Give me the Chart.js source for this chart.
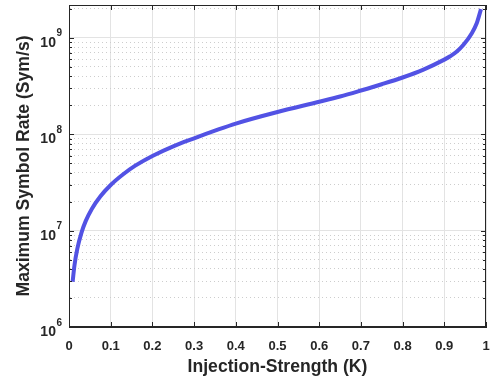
<!DOCTYPE html>
<html>
<head>
<meta charset="utf-8">
<script src="https://cdn.jsdelivr.net/npm/chart.js@4/dist/chart.umd.min.js"></script>
<style>
  html, body { margin: 0; padding: 0; background: #fff; }
  #wrap { width: 490px; height: 382px; }
</style>
</head>
<body>
<div id="wrap"><canvas id="rate-chart"></canvas></div>
<script>
// injection strength K and max symbol rate (Sym/s)
const strength = [0.0087, 0.013, 0.02, 0.03, 0.04, 0.055, 0.075, 0.1, 0.13, 0.158, 0.2, 0.25, 0.3, 0.35, 0.4, 0.5, 0.6, 0.65, 0.7, 0.75, 0.8, 0.85, 0.9, 0.914, 0.93, 0.946, 0.966, 0.978, 0.988];
const symbolRate = [2.95e6, 4.33e6, 6.5e6, 9.55e6, 1.256e7, 1.69e7, 2.265e7, 2.98e7, 3.85e7, 4.7e7, 5.96e7, 7.5e7, 9.08e7, 1.09e8, 1.294e8, 1.706e8, 2.178e8, 2.47e8, 2.85e8, 3.31e8, 3.89e8, 4.7e8, 5.96e8, 6.46e8, 7.24e8, 8.51e8, 1.122e9, 1.432e9, 1.995e9];
const decades = [6, 7, 8, 9];

const textColor = '#262626';
const isDecade = v => Math.abs(Math.log10(v) - Math.round(Math.log10(v))) < 1e-9;

// MATLAB-ish box with inward tick marks, and 10^n labels with a real superscript
const frame = {
    id: 'frame',
    afterDraw(chart) {
        const { ctx, chartArea: a, scales: { x, y } } = chart;
        ctx.save();
        ctx.strokeStyle = textColor;
        ctx.lineWidth = 1;
        ctx.strokeRect(a.left + 0.5, a.top + 0.5, a.right - a.left - 1, a.bottom - a.top - 1);
        ctx.beginPath();
        x.ticks.forEach(t => {
            const px = Math.round(x.getPixelForValue(t.value)) + 0.5;
            ctx.moveTo(px, a.bottom); ctx.lineTo(px, a.bottom - 5);
            ctx.moveTo(px, a.top); ctx.lineTo(px, a.top + 5);
        });
        y.ticks.forEach(t => {
            const py = Math.round(y.getPixelForValue(t.value)) + 0.5;
            const len = isDecade(t.value) ? 5 : 3;
            ctx.moveTo(a.left, py); ctx.lineTo(a.left + len, py);
            ctx.moveTo(a.right, py); ctx.lineTo(a.right - len, py);
        });
        ctx.stroke();

        ctx.fillStyle = textColor;
        ctx.textAlign = 'right';
        ctx.textBaseline = 'alphabetic';
        const right = a.left - 7;
        decades.forEach(d => {
            const py = y.getPixelForValue(Math.pow(10, d));
            ctx.font = 'bold 10px "Liberation Sans"';
            const expW = ctx.measureText(String(d)).width;
            ctx.fillText(String(d), right, py - 1.5);
            ctx.font = 'bold 14px "Liberation Sans"';
            ctx.fillText('10', right - expW - 0.5, py + 9);
        });
        ctx.restore();
    }
};

let ctx = document.getElementById('rate-chart').getContext('2d');

let chart = new Chart(ctx, {
    type: 'line',
    data: {
        datasets: [{
            data: strength.map((k, i) => ({ x: k, y: symbolRate[i] })),
            borderColor: 'rgb(82,82,228)',
            borderWidth: 4,
            pointRadius: 0,
            fill: false,
            cubicInterpolationMode: 'monotone'
        }]
    },
    options: {
        responsive: true,
        maintainAspectRatio: false,
        animation: false,
        layout: { padding: { top: 5, right: 4, left: 0, bottom: 0 } },
        plugins: { legend: { display: false }, tooltip: { enabled: false } },
        scales: {
            x: {
                type: 'linear',
                min: 0,
                max: 1,
                ticks: {
                    stepSize: 0.1,
                    padding: 12,
                    color: textColor,
                    font: { family: 'Liberation Sans', size: 13, weight: 'bold' },
                    callback: v => String(+v.toFixed(1))
                },
                grid: { color: '#e3e3e3', drawTicks: false },
                border: { color: textColor },
                title: {
                    display: true,
                    text: 'Injection-Strength (K)',
                    color: textColor,
                    font: { family: 'Liberation Sans', size: 17.6, weight: 'bold' },
                    padding: { top: 0, bottom: 4 }
                },
                afterFit: s => { s.height = 55; s.paddingLeft = 0; s.paddingRight = 0; }
            },
            y: {
                type: 'logarithmic',
                min: 1e6,
                max: 2.2e9,
                afterBuildTicks: s => {
                    const t = [];
                    decades.forEach(d => {
                        for (let m = 1; m <= 9; m++) {
                            const v = m * Math.pow(10, d);
                            if (v <= s.max) t.push({ value: v });
                        }
                    });
                    s.ticks = t;
                },
                ticks: {
                    autoSkip: false,
                    display: false,
                    callback: v => isDecade(v) ? '1e' + Math.round(Math.log10(v)) : ''
                },
                grid: {
                    drawTicks: false,
                    color: c => c.tick && isDecade(c.tick.value) ? '#e3e3e3' : '#cdcdcd'
                },
                border: {
                    color: '#6e6e6e',
                    width: 1,
                    dash: c => c.tick && !isDecade(c.tick.value) ? [1, 3] : []
                },
                title: {
                    display: true,
                    text: 'Maximum Symbol Rate (Sym/s)',
                    color: textColor,
                    font: { family: 'Liberation Sans', size: 17.6, weight: 'bold' },
                    padding: { top: 14, bottom: 0 }
                },
                afterFit: s => { s.width = 69; s.paddingTop = 0; s.paddingBottom = 0; }
            }
        }
    },
    plugins: [frame]
});
</script>
</body>
</html>
